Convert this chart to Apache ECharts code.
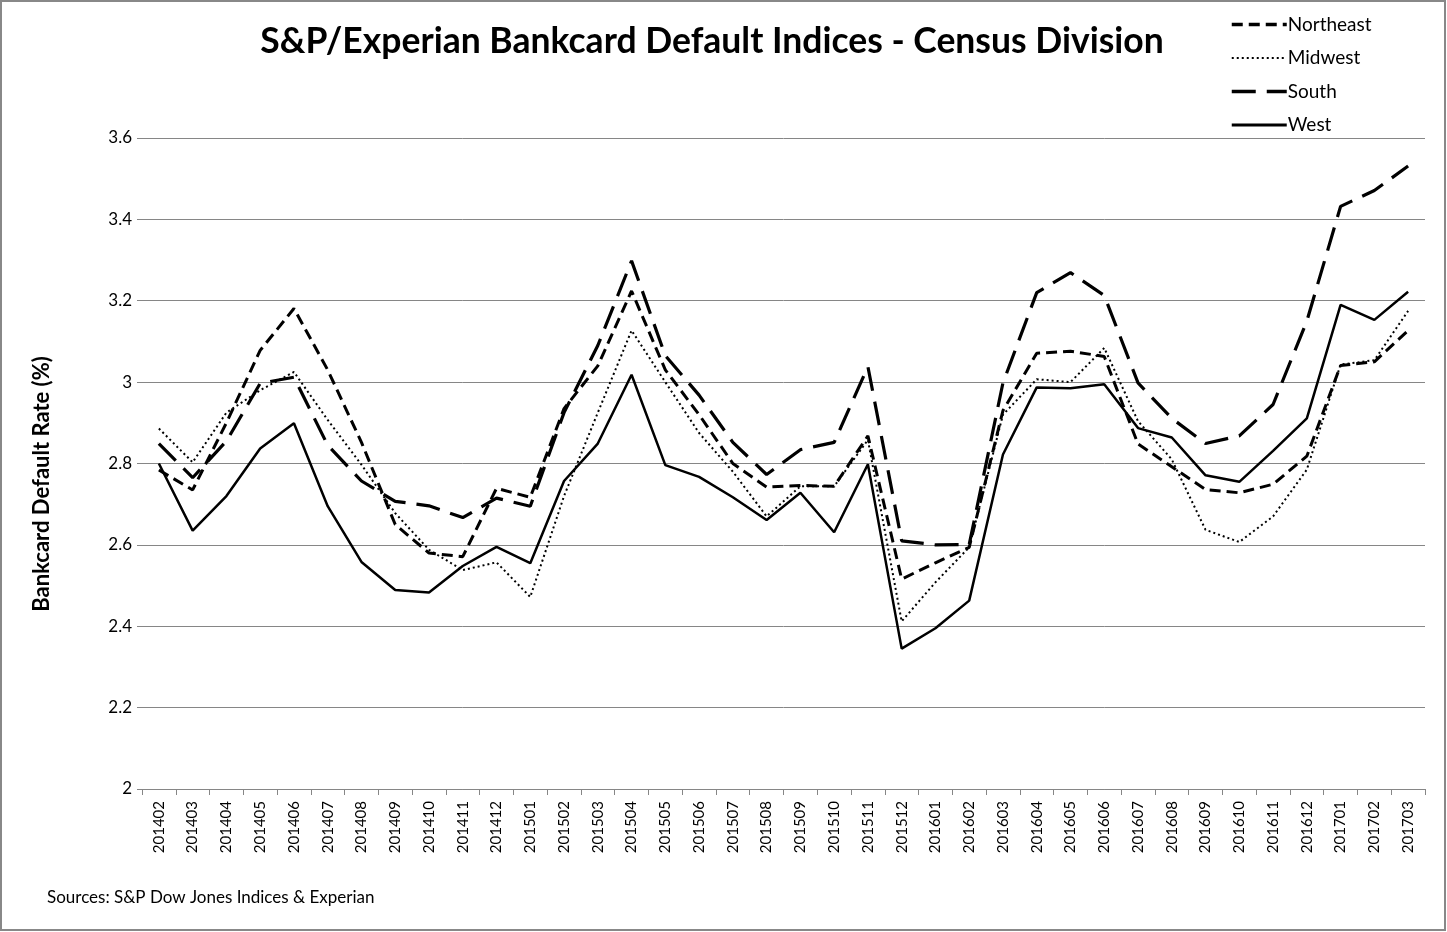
<!DOCTYPE html>
<html>
<head>
<meta charset="utf-8">
<script src="https://cdn.jsdelivr.net/npm/echarts@6/dist/echarts.min.js"></script>
<style>
html,body{margin:0;padding:0;background:#fff;}
#chart{width:1447px;height:932px;}
</style>
</head>
<body>
<div id="chart"></div>
<script>
const categories = ['201402','201403','201404','201405','201406','201407','201408','201409','201410','201411','201412',
  '201501','201502','201503','201504','201505','201506','201507','201508','201509','201510','201511','201512',
  '201601','201602','201603','201604','201605','201606','201607','201608','201609','201610','201611','201612',
  '201701','201702','201703'];
const northeast = [2.784,2.735,2.90,3.078,3.181,3.03,2.852,2.65,2.58,2.571,2.739,
  2.717,2.935,3.04,3.224,3.03,2.92,2.80,2.742,2.746,2.744,2.868,2.516,
  2.556,2.594,2.93,3.071,3.076,3.063,2.848,2.792,2.736,2.728,2.749,2.818,
  3.041,3.05,3.127];
const midwest = [2.886,2.803,2.925,2.98,3.025,2.907,2.797,2.678,2.588,2.538,2.557,
  2.472,2.72,2.925,3.127,3.0,2.875,2.78,2.67,2.744,2.744,2.858,2.412,
  2.508,2.594,2.92,3.007,3.0,3.084,2.904,2.81,2.637,2.607,2.67,2.785,
  3.043,3.054,3.175];
const south = [2.849,2.765,2.855,2.997,3.012,2.845,2.757,2.707,2.696,2.667,2.715,
  2.695,2.925,3.09,3.298,3.065,2.968,2.852,2.773,2.834,2.852,3.038,2.61,
  2.60,2.601,2.998,3.22,3.269,3.213,2.998,2.911,2.849,2.868,2.945,3.15,
  3.432,3.471,3.531];
const west = [2.80,2.635,2.72,2.837,2.899,2.695,2.558,2.489,2.483,2.548,2.595,
  2.555,2.757,2.849,3.018,2.796,2.767,2.717,2.661,2.728,2.631,2.798,2.345,
  2.395,2.463,2.822,2.987,2.985,2.995,2.887,2.864,2.771,2.755,2.831,2.911,
  3.19,3.153,3.222];
const yTicks = {min: 2, max: 3.6, interval: 0.2};

const FONT = 'Lato';
const chart = echarts.init(document.getElementById('chart'), null, {renderer: 'canvas'});

function mk(name, data, type, width) {
  return {
    name: name, type: 'line', data: data, symbol: 'none', smooth: false,
    lineStyle: {color: '#000', width: width, type: type, cap: 'butt'},
    itemStyle: {color: '#000'},
    emphasis: {disabled: true}, z: 3
  };
}

chart.setOption({
  animation: false,
  backgroundColor: '#fff',
  title: {
    text: 'S&P/Experian Bankcard Default Indices - Census Division',
    left: 707, top: 19, textAlign: 'center',
    textStyle: {fontFamily: FONT, fontSize: 35.5, fontWeight: 'bold', color: '#000'}
  },
  legend: {
    orient: 'vertical', left: 1225, top: 10,
    itemWidth: 55, itemHeight: 14, itemGap: 14.5,
    itemStyle: {opacity: 0},
    textStyle: {fontFamily: FONT, fontSize: 19, color: '#000', padding: [0,0,0,-4]},
    data: [
      {name: 'Northeast', lineStyle: {width: 3.5}},
      {name: 'Midwest', lineStyle: {width: 2}},
      {name: 'South', lineStyle: {width: 3.5}},
      {name: 'West', lineStyle: {width: 2.8}}
    ]
  },
  grid: {left: 142, right: 22, top: 138, bottom: 143, containLabel: false},
  xAxis: {
    type: 'category', data: categories, boundaryGap: true,
    axisLine: {show: true, lineStyle: {color: '#868686', width: 1}},
    axisTick: {show: true, length: 6, interval: 0, lineStyle: {color: '#868686'}},
    axisLabel: {rotate: 90, interval: 0, margin: 12, fontFamily: FONT, fontSize: 15, color: '#000'},
    splitLine: {show: false}
  },
  yAxis: {
    type: 'value', min: yTicks.min, max: yTicks.max, interval: yTicks.interval,
    axisLine: {show: false},
    axisTick: {show: true, length: 5, lineStyle: {color: '#868686'}},
    axisLabel: {margin: 10, fontFamily: FONT, fontSize: 17, color: '#000',
      formatter: v => (Math.round(v*10)/10).toString()},
    splitLine: {show: true, lineStyle: {color: '#868686', width: 1}}
  },
  graphic: [
    {type: 'rect', shape: {x: 1, y: 1, width: 1444, height: 929}, style: {fill: 'none', stroke: '#888', lineWidth: 2}, z: 0, silent: true},
    {type: 'text', x: 42, y: 484, rotation: Math.PI / 2,
      style: {text: 'Bankcard Default Rate (%)', fontFamily: FONT, fontSize: 22, fontWeight: 'bold', fill: '#000', align: 'center', verticalAlign: 'middle'}},
    {type: 'text', left: 47, top: 889, style: {text: 'Sources: S&P Dow Jones Indices & Experian', fontFamily: FONT, fontSize: 17, fill: '#000'}}
  ],
  series: [
    mk('Northeast', northeast, [11, 6], 3),
    mk('Midwest', midwest, [2, 3], 2),
    mk('South', south, [24, 11], 3.2),
    mk('West', west, 'solid', 2.5)
  ]
});
</script>
</body>
</html>
